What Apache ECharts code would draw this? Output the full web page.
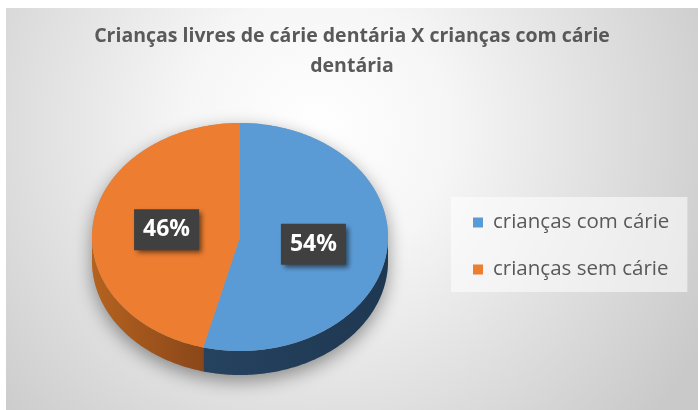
<!DOCTYPE html>
<html>
<head>
<meta charset="utf-8">
<script src="https://cdn.jsdelivr.net/npm/echarts@6/dist/echarts.min.js"></script>
<style>
  html, body { margin: 0; padding: 0; background: #fff; }
  #chart { position: absolute; left: 6px; top: 8px; width: 692px; height: 402px; }
</style>
</head>
<body>
<div id="chart"></div>
<script>
const title = 'Crianças livres de cárie dentária X crianças com cárie\ndentária';
const categories = ['crianças com cárie', 'crianças sem cárie'];
const values = [54, 46];
const colors = ['#5b9bd5', '#ed7d31'];
const sideColors = [['#25425f', '#1f3852'], ['#b5621f', '#8a4719']];

// tilted pie geometry (px, chart coords)
const CX = 234, CY = 229, RX = 148, RY = 114, DEPTH = 24;

function pt(deg, dy) {
  const r = deg * Math.PI / 180;
  return [CX + RX * Math.sin(r), CY - RY * Math.cos(r) + (dy || 0)];
}

function arc(from, to, dy) {
  const pts = [];
  const n = Math.max(2, Math.ceil(Math.abs(to - from)));
  for (let k = 0; k <= n; k++) pts.push(pt(from + (to - from) * k / n, dy));
  return pts;
}

const total = values.reduce((a, b) => a + b, 0);

function renderSlice(i) {
  return function (params, api) {
    let before = 0;
    for (let k = 0; k < i; k++) before += values[k];
    const a1 = before / total * 360;
    const a2 = (before + api.value(0)) / total * 360;
    const children = [];

    if (i === 0) {
      // soft drop shadow under the whole disc
      const outline = arc(-90, 90, 0).concat(arc(90, 270, DEPTH));
      children.push({
        type: 'polygon', z2: 0, shape: { points: outline },
        style: { fill: '#9a9a9a', shadowBlur: 18, shadowColor: 'rgba(0,0,0,0.4)', shadowOffsetY: 6 }
      });
    }

    // visible side: lower half only
    const s = Math.max(a1, 90), e = Math.min(a2, 270);
    if (e > s) {
      const side = arc(s, e, 0).concat(arc(e, s, DEPTH));
      children.push({
        type: 'polygon', z2: 1, shape: { points: side },
        style: {
          fill: new echarts.graphic.LinearGradient(0, 0, 1, 0, [
            { offset: 0, color: sideColors[i][0] },
            { offset: 1, color: sideColors[i][1] }
          ])
        }
      });
    }

    children.push({
      type: 'polygon', z2: 2,
      shape: { points: [[CX, CY]].concat(arc(a1, a2, 0)) },
      style: { fill: colors[i] }
    });

    const mid = (a1 + a2) / 2 * Math.PI / 180;
    children.push({
      type: 'text', z2: 5,
      x: CX + 0.5 * RX * Math.sin(mid),
      y: CY - 0.5 * RY * Math.cos(mid),
      style: {
        text: Math.round(api.value(0) / total * 100) + '%',
        fill: '#ffffff',
        font: 'bold 23px "Open Sans"',
        align: 'center', verticalAlign: 'middle',
        lineHeight: 27,
        backgroundColor: '#404040',
        padding: [7, 9],
        shadowBlur: 5, shadowColor: 'rgba(0,0,0,0.55)', shadowOffsetX: 3, shadowOffsetY: 3
      }
    });

    return { type: 'group', children };
  };
}

const chart = echarts.init(document.getElementById('chart'), null, { renderer: 'canvas' });
chart.setOption({
  animation: false,
  backgroundColor: new echarts.graphic.RadialGradient(0.45, 0.3, 1.1, [
    { offset: 0, color: '#ffffff' },
    { offset: 0.3, color: '#f6f6f6' },
    { offset: 1, color: '#c9c9c9' }
  ]),
  title: {
    text: title,
    left: 'center', top: 8,
    textStyle: { color: '#595959', fontFamily: 'Open Sans', fontWeight: 'bold', fontSize: 19.5, lineHeight: 30 }
  },
  legend: {
    orient: 'vertical',
    left: 445, top: 189,
    icon: 'rect', itemWidth: 10, itemHeight: 10, itemGap: 26,
    padding: [15, 18, 12, 22],
    backgroundColor: 'rgba(255,255,255,0.55)',
    textStyle: { color: '#595959', fontFamily: 'Open Sans', fontSize: 20.5, lineHeight: 20, padding: [0, 0, 0, 5] },
    data: categories
  },
  series: categories.map((name, i) => ({
    type: 'custom',
    name,
    coordinateSystem: 'none',
    itemStyle: { color: colors[i] },
    renderItem: renderSlice(i),
    data: [values[i]]
  }))
});
</script>
</body>
</html>
